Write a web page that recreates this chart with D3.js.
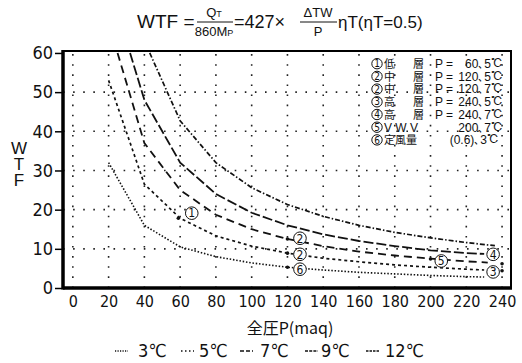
<!DOCTYPE html>
<html>
<head>
<meta charset="utf-8">
<script src="https://cdn.jsdelivr.net/npm/d3@7"></script>
<style>
  body { margin: 0; background: #fff; }
  svg { display: block; }
  text { fill: #111; }
</style>
</head>
<body>
<div id="chart"></div>
<script>
// temperature difference series
const seriesNames = ['3℃', '5℃', '7℃', '9℃', '12℃'];
const pressure3 = [20, 40, 60, 80, 100, 120, 140, 160, 180, 200, 220, 230];
const wtf3      = [32, 16, 10.5, 8, 6.4, 5.3, 4.6, 4, 3.6, 3.2, 2.9, 2.8];
const pressure5 = [20, 40, 60, 80, 100, 120, 140, 160, 180, 200, 220, 230];
const wtf5      = [53, 26.5, 17.8, 13.3, 10.7, 8.9, 7.6, 6.7, 5.9, 5.3, 4.8, 4.6];
const pressure7 = [25, 40, 60, 80, 100, 120, 140, 160, 180, 200, 220, 232];
const wtf7      = [60, 37, 25, 18.7, 15, 12.5, 10.7, 9.3, 8.3, 7.5, 6.8, 6.5];
const pressure9 = [32, 40, 60, 80, 100, 120, 140, 160, 180, 200, 220, 230];
const wtf9      = [60, 48, 32, 24, 19.2, 16, 13.7, 12, 10.7, 9.6, 8.9, 8.7];
const pressure12 = [43, 60, 80, 100, 120, 140, 160, 180, 200, 220, 236];
const wtf12      = [60, 42.7, 32, 25.6, 21.3, 18.3, 16, 14.2, 12.8, 11.6, 10.8];

const xTicks = [0, 20, 40, 60, 80, 100, 120, 140, 160, 180, 200, 220, 240];
const yTicks = [0, 10, 20, 30, 40, 50, 60];

// circled marks on the curves
const markText = ['1', '2', '2', '6', '5', '4', '3'];
const markP    = [66.5, 127, 127, 127, 206, 235, 235];
const markW    = [19.1, 12.7, 8.6, 4.8, 6.9, 8.6, 4.1];
const dotP     = [59, 120, 120, 120, 200, 240, 240];
const dotW     = [17.8, 12.5, 8.9, 5.3, 7.4, 6.2, 4.4];

// legend box text
const boxNums  = ['1', '2', '2', '3', '4', '5', '6'];
const boxNames = ['低', '中', '中', '高', '高', 'V W V', '定風量'];
const boxMid   = ['層', '層', '層', '層', '層', '', ''];
const boxP     = ['P =', 'P =', 'P =', 'P =', 'P =', '', ''];
const boxVals  = ['60､5℃', '120､5℃', '120､7℃', '240､5℃', '240､7℃', '200､7℃', '(0.6)､3℃'];

const width = 522, height = 363;
const plot = { left: 63, right: 511, top: 51, bottom: 288 };
const narrow = "'Liberation Sans Narrow', 'DejaVu Sans Condensed', 'Liberation Sans', sans-serif";
const jp = "'Noto Sans CJK JP', 'Noto Sans', sans-serif";

const svg = d3.select('#chart').append('svg')
  .attr('width', width)
  .attr('height', height);

const x = d3.scaleLinear().domain([-5.5, 245]).range([plot.left, plot.right]);
const y = d3.scaleLinear().domain([0, 60.5]).range([plot.bottom, plot.top]);

function circled(g, cx, cy, r, label, fs) {
  g.append('circle').attr('cx', cx).attr('cy', cy).attr('r', r)
    .attr('fill', '#fff').attr('stroke', '#111').attr('stroke-width', 1);
  g.append('text').attr('x', cx).attr('y', cy + fs * 0.36)
    .attr('text-anchor', 'middle').attr('font-family', narrow)
    .attr('font-size', fs).text(label);
}

// grid
const grid = svg.append('g')
  .attr('stroke', '#222')
  .attr('stroke-width', 1.6)
  .attr('stroke-dasharray', '1.6,8.5');
grid.selectAll('line.v').data(xTicks).enter().append('line')
  .attr('x1', d => x(d)).attr('x2', d => x(d))
  .attr('y1', plot.bottom).attr('y2', plot.top);
grid.selectAll('line.h').data(yTicks.filter(d => d > 0 && d < 60)).enter().append('line')
  .attr('y1', d => y(d)).attr('y2', d => y(d))
  .attr('x1', plot.left).attr('x2', plot.right);

// curves
const line = d3.line().x(d => x(d[0])).y(d => y(d[1]));
const curves = [
  { p: pressure3, w: wtf3, dash: '1.5,1.8', sw: 1.6 },
  { p: pressure5, w: wtf5, dash: '3,3', sw: 1.7 },
  { p: pressure7, w: wtf7, dash: '8,5', sw: 1.8 },
  { p: pressure9, w: wtf9, dash: '10,3', sw: 1.8 },
  { p: pressure12, w: wtf12, dash: '5,2,1.5,2', sw: 1.7 }
];
curves.forEach(c => {
  svg.append('path')
    .attr('fill', 'none')
    .attr('stroke', '#111')
    .attr('stroke-width', c.sw)
    .attr('stroke-dasharray', c.dash)
    .attr('d', line(d3.zip(c.p, c.w)));
});

// marker dots and circled labels
svg.selectAll('circle.dot').data(d3.range(dotP.length)).enter().append('circle')
  .attr('cx', i => x(dotP[i])).attr('cy', i => y(dotW[i]))
  .attr('r', 1.8).attr('fill', '#111');
const marks = svg.append('g');
markText.forEach((m, i) => circled(marks, x(markP[i]), y(markW[i]), 6.3, m, 12));

// frame
svg.append('rect')
  .attr('x', plot.left).attr('y', plot.top)
  .attr('width', plot.right - plot.left).attr('height', plot.bottom - plot.top)
  .attr('fill', 'none').attr('stroke', '#000').attr('stroke-width', 2);
svg.append('line')
  .attr('x1', plot.left).attr('x2', plot.left).attr('y1', plot.top - 1).attr('y2', plot.bottom + 1.5)
  .attr('stroke', '#000').attr('stroke-width', 3.5);
svg.append('line')
  .attr('x1', plot.left).attr('x2', plot.right + 1).attr('y1', plot.bottom).attr('y2', plot.bottom)
  .attr('stroke', '#000').attr('stroke-width', 3.5);

// y axis
const yAxis = svg.append('g')
  .attr('transform', `translate(${plot.left},0)`)
  .call(d3.axisLeft(y).tickValues(yTicks).tickSize(8).tickPadding(2));
yAxis.select('.domain').remove();
yAxis.selectAll('line').attr('stroke', '#000').attr('stroke-width', 1.5);
yAxis.selectAll('text').attr('font-family', narrow).attr('font-size', 18).attr('fill', '#111');

// x axis
const xAxis = svg.append('g')
  .attr('transform', `translate(0,${plot.bottom})`)
  .call(d3.axisBottom(x).tickValues(xTicks).tickSize(0).tickPadding(8));
xAxis.select('.domain').remove();
xAxis.selectAll('text').attr('font-family', narrow).attr('font-size', 16).attr('fill', '#111');

// axis titles
svg.append('text').attr('x', 290).attr('y', 334).attr('text-anchor', 'middle')
  .attr('font-family', jp).attr('font-size', 16).text('全圧P(maq)');
['W', 'T', 'F'].forEach((c, i) => {
  svg.append('text').attr('x', 19).attr('y', 154 + i * 16).attr('text-anchor', 'middle')
    .attr('font-family', "'Liberation Sans', sans-serif").attr('font-size', 17).text(c);
});

// legend box inside plot
const box = svg.append('g').attr('font-size', 11.5);
const latin = "'Liberation Sans', sans-serif";
boxNames.forEach((n, i) => {
  const by = 68 + i * 12.7;
  circled(box, 377, by - 4.3, 5.2, boxNums[i], 10);
  box.append('text').attr('x', 384).attr('y', by)
    .attr('font-family', i === 5 ? latin : jp).attr('font-size', i === 5 ? 12 : 11).text(n);
  box.append('text').attr('x', 413).attr('y', by).attr('font-family', jp).attr('font-size', 11).text(boxMid[i]);
  box.append('text').attr('x', 435).attr('y', by).attr('font-family', latin).attr('font-size', 12).text(boxP[i]);
  box.append('text').attr('x', i === 6 ? 499 : 503).attr('y', by).attr('text-anchor', 'end')
    .attr('font-family', latin).attr('font-size', 12).text(boxVals[i]);
});

// bottom legend
const legX = [115, 181, 240, 305, 366];
const legTextX = [138, 199, 260, 321, 385];
const legDash = ['1.2,1.3', '1.5,2.5', '4,2', '3,1.2', '2.5,1'];
seriesNames.forEach((s, i) => {
  svg.append('line')
    .attr('x1', legX[i]).attr('x2', legX[i] + 13).attr('y1', 351).attr('y2', 351)
    .attr('stroke', '#111').attr('stroke-width', 1.3).attr('stroke-dasharray', legDash[i]);
  svg.append('text').attr('x', legTextX[i]).attr('y', 357)
    .attr('font-family', narrow).attr('font-size', 18).text(s);
});

// formula title
const t = svg.append('g').attr('font-family', "'Liberation Sans', sans-serif");
t.append('text').attr('x', 137).attr('y', 28).attr('font-size', 19).text('WTF =');
const f1 = t.append('text').attr('x', 214).attr('y', 17).attr('text-anchor', 'middle').attr('font-size', 13);
f1.append('tspan').text('Q');
f1.append('tspan').attr('font-size', 9).text('T');
t.append('line').attr('x1', 197).attr('x2', 233).attr('y1', 22).attr('y2', 22).attr('stroke', '#111').attr('stroke-width', 1);
const f2 = t.append('text').attr('x', 214).attr('y', 36).attr('text-anchor', 'middle').attr('font-size', 13);
f2.append('tspan').text('860M');
f2.append('tspan').attr('font-size', 9).text('P');
t.append('text').attr('x', 234).attr('y', 28).attr('font-size', 18).text('=427×');
t.append('text').attr('x', 318).attr('y', 17).attr('text-anchor', 'middle').attr('font-size', 13).text('ΔTW');
t.append('line').attr('x1', 300).attr('x2', 337).attr('y1', 22).attr('y2', 22).attr('stroke', '#111').attr('stroke-width', 1);
t.append('text').attr('x', 318).attr('y', 36).attr('text-anchor', 'middle').attr('font-size', 13).text('P');
t.append('text').attr('x', 338).attr('y', 28).attr('font-size', 17).text('ηT(ηT=0.5)');
</script>
</body>
</html>
